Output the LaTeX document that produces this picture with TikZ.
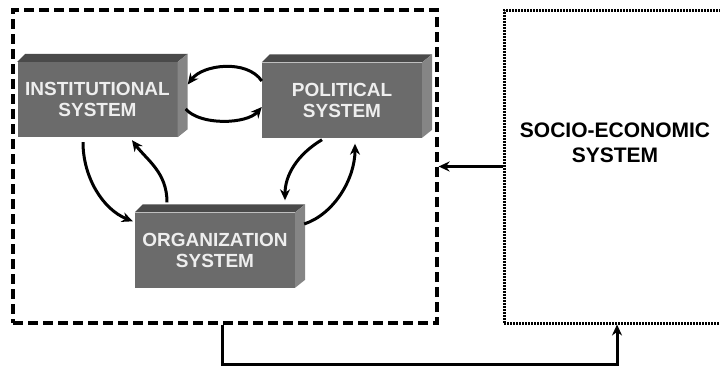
\documentclass[tikz,border=0pt]{standalone}
\usepackage{fontspec}
\setmainfont{Liberation Sans}
\usetikzlibrary{arrows.meta}
\definecolor{frontc}{HTML}{6B6B6B}
\definecolor{topc}{HTML}{4A4A4A}
\definecolor{sidec}{HTML}{858585}
\definecolor{txtc}{HTML}{EEEEEE}
\newcommand\boxfaces[1]{%
 \fill[topc] (#1.north west) -- ++(8,-8) -- ([shift={(10,-8)}]#1.north east) -- (#1.north east) -- cycle;
 \fill[sidec] (#1.north east) -- ++(10,-8) -- ([shift={(10,-8)}]#1.south east) -- (#1.south east) -- cycle;}
\begin{document}
\begin{tikzpicture}[x=1pt,y=-1pt,
 sysbox/.style={rectangle, fill=frontc, minimum width=160pt, minimum height=75pt, inner sep=0pt, text=txtc, font=\fontsize{19}{21}\selectfont\bfseries, align=center},
 framebox/.style={draw, inner sep=0pt, minimum height=313pt},
 cyc/.style={line width=3pt, -{Stealth[length=11pt,width=10pt]}},
 link/.style={line width=3pt, -{Stealth[length=11pt,width=10pt]}}]
\useasboundingbox (0,0) rectangle (720,367);
\node[framebox, dash pattern=on 10pt off 5pt, line width=3.2pt, minimum width=424pt] (outer) at (225,166.5) {};
\node[framebox, dash pattern=on 1.7pt off 1.3pt, line width=3pt, minimum width=222pt] (seco) at (615,166.5) {};
\node[font=\fontsize{21}{25}\selectfont\bfseries, align=center] (socio) at (615,143) {SOCIO-ECONOMIC\\SYSTEM};
\node[sysbox] (inst) at (97.5,99.5) {INSTITUTIONAL\\SYSTEM};
\node[sysbox] (pol) at (342,100) {POLITICAL\\SYSTEM};
\node[sysbox] (org) at (215,250) {ORGANIZATION\\SYSTEM};
\boxfaces{inst}
\boxfaces{pol}
\boxfaces{org}
\draw[cyc] ([shift={(0,-19)}]pol.west) .. controls +(-15,-22) and +(15,-20) .. ([shift={(10,-15)}]inst.east);
\draw[cyc] ([shift={(8,9.5)}]inst.east) .. controls +(15,17) and +(-15,17) .. ([shift={(0,7)}]pol.west);
\draw[cyc] ([shift={(-14.5,5)}]inst.south) .. controls +(0,35) and +(-30,-12) .. ([shift={(-2,9)}]org.north west);
\draw[cyc] ([shift={(-48,-10)}]org.north) .. controls +(0,-30) and +(15,20) .. ([shift={(34.5,3)}]inst.south);
\draw[cyc] ([shift={(-20,2)}]pol.south) .. controls +(-25,15) and +(0,-25) .. ([shift={(70,-12)}]org.north);
\draw[cyc] ([shift={(9,-26)}]org.east) .. controls +(30,-10) and +(0,35) .. ([shift={(13,6)}]pol.south);
\draw[link] (seco.west) -- (outer.east);
\draw[link] ([xshift=-3pt]outer.south) -- ++(0,40) -| ([xshift=2pt]seco.south);
\end{tikzpicture}
\end{document}
